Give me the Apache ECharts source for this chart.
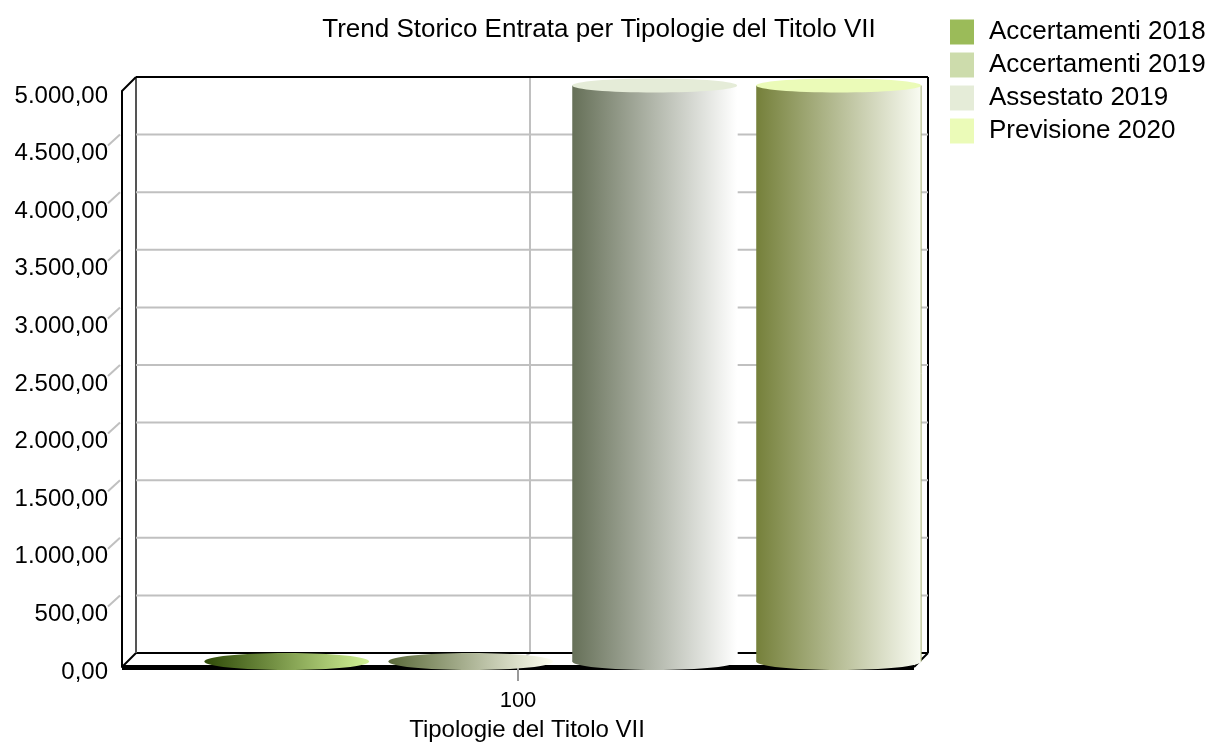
<!DOCTYPE html>
<html>
<head>
<meta charset="utf-8">
<title>Trend Storico Entrata</title>
<script type="text/javascript" src="https://cdn.jsdelivr.net/npm/echarts@6/dist/echarts.min.js"></script>
<style>
	html, body { margin: 0; padding: 0; background: #fff; }
	#main { width: 1210px; height: 742px; }
</style>
</head>
<body>
<div id="main"></div>
<script type="text/javascript">
	var titleText = 'Trend Storico Entrata per Tipologie del Titolo VII';
	var axisName = 'Tipologie del Titolo VII';
	var categories = ['100'];
	var seriesNames = ['Accertamenti 2018', 'Accertamenti 2019', 'Assestato 2019', 'Previsione 2020'];
	var seriesValues = [0, 0, 5000, 5000];
	var tickValues = [0, 500, 1000, 1500, 2000, 2500, 3000, 3500, 4000, 4500, 5000];
	var tickLabels = ['0,00', '500,00', '1.000,00', '1.500,00', '2.000,00', '2.500,00',
		'3.000,00', '3.500,00', '4.000,00', '4.500,00', '5.000,00'];
	var legendColors = ['#9bbb59', '#cddcac', '#e5ecd8', '#ebfbb8'];
	var darkSides = ['#2f4a08', '#5b6a3a', '#667058', '#75803a'];
	var lightSides = ['#d2f296', '#fffff2', '#ffffff', '#f9fbf2'];
	var edgeColors = ['#d2f296', '#fffff2', '#ffffff', '#a9b37a'];

	var DEPTH_X = 14, DEPTH_Y = 14;
	var GRAY = '#c0c0c0';

	function line(x1, y1, x2, y2, color, width) {
		return {
			type : 'line',
			shape : { x1 : x1, y1 : y1, x2 : x2, y2 : y2 },
			style : { stroke : color, lineWidth : width }
		};
	}

	// back wall, floor and the slanted ticks of the fake 3d box
	function renderFrame(params, api) {
		var cs = params.coordSys;
		var y = api.coord([0, api.value(1)])[1] - DEPTH_Y;
		var left = cs.x + DEPTH_X, right = cs.x + cs.width + DEPTH_X;
		var kids = [];
		var v = api.value(1);
		if (v > 0 && v < 5000) {
			kids.push(line(left, y, right, y, GRAY, 2));
			kids.push(line(cs.x - 2, y, cs.x - 14, y + 11, GRAY, 2));
		}
		if (v === 0) {
			var midX = api.coord([0, 0])[0];
			var front = cs.y + cs.height;
			kids.push(line(midX + DEPTH_X - 2, cs.y - DEPTH_Y, midX + DEPTH_X - 2, y, GRAY, 2));
			kids.push(line(midX + DEPTH_X - 2, y, midX + DEPTH_X - 6, y + 3, GRAY, 2));
			kids.push(line(left, y, right, y, '#000', 2));
			kids.push(line(cs.x, front, left, y, '#000', 2));
			kids.push(line(cs.x + cs.width, front, right, y, '#000', 2));
			kids.push(line(left, cs.y - DEPTH_Y, left, y, '#555', 2));
			kids.push(line(right, cs.y - DEPTH_Y, right, y, '#000', 2));
			kids.push(line(left, cs.y - DEPTH_Y, right, cs.y - DEPTH_Y, '#000', 2));
			kids.push(line(cs.x, cs.y, left, cs.y - DEPTH_Y, '#000', 2));
		}
		return { type : 'group', children : kids };
	}

	function makeCylinder(idx) {
		return function(params, api) {
			var band = api.size([1, 0])[0];
			var value = api.value(1);
			var center = api.coord([api.value(0), 0])[0] + band * (0.2323 * idx - 0.292);
			var rx = band * 0.1041;
			var topY = api.coord([0, value])[1] - 5.5;
			var bottomY = api.coord([0, 0])[1] - 5.5;
			var grad = {
				type : 'linear', x : 0, y : 0, x2 : 1, y2 : 0,
				colorStops : [
					{ offset : 0, color : darkSides[idx] },
					{ offset : 1, color : lightSides[idx] }
				]
			};
			var kids = [{
				type : 'ellipse',
				shape : { cx : center, cy : bottomY, rx : rx, ry : 8.5 },
				style : { fill : grad }
			}];
			if (value > 0) {
				kids.push({
					type : 'rect',
					shape : { x : center - rx, y : topY, width : rx * 2, height : bottomY - topY },
					style : { fill : grad }
				});
				kids.push(line(center + rx, topY, center + rx, bottomY, edgeColors[idx], 1));
				kids.push({
					type : 'ellipse',
					shape : { cx : center, cy : topY, rx : rx, ry : 7 },
					style : { fill : legendColors[idx] }
				});
			}
			return { type : 'group', children : kids };
		};
	}

	var series = [{
		type : 'custom',
		name : 'frame',
		z : 1,
		silent : true,
		renderItem : renderFrame,
		encode : { x : 0, y : 1 },
		data : tickValues.map(function(v) { return [0, v]; })
	}];
	for (var i = 0; i < seriesNames.length; i++) {
		series.push({
			type : 'custom',
			name : seriesNames[i],
			z : 5,
			renderItem : makeCylinder(i),
			encode : { x : 0, y : 1 },
			itemStyle : { color : legendColors[i] },
			data : [[0, seriesValues[i]]]
		});
	}

	var myChart = echarts.init(document.getElementById('main'), null, { renderer : 'canvas' });
	myChart.setOption({
		animation : false,
		backgroundColor : '#fff',
		textStyle : { fontFamily : 'Liberation Sans' },
		title : {
			text : titleText,
			left : 594,
			top : 12,
			textAlign : 'center',
			textStyle : { fontFamily : 'Liberation Sans', fontSize : 26, fontWeight : 'normal', color : '#000' }
		},
		legend : {
			orient : 'vertical',
			left : 950,
			top : 19,
			padding : 0,
			itemWidth : 24,
			itemHeight : 25,
			itemGap : 7,
			icon : 'rect',
			data : seriesNames,
			selectedMode : false,
			textStyle : { fontSize : 26, color : '#000', padding : [0, 0, 0, 10] }
		},
		grid : { left : 122, right : 296, top : 91, bottom : 75, outerBoundsMode : 'none' },
		xAxis : {
			type : 'category',
			data : categories,
			offset : 1,
			name : axisName,
			nameLocation : 'middle',
			nameGap : 50,
			nameTextStyle : { fontSize : 24, color : '#000', padding : [0, 0, 0, 18] },
			axisLine : { lineStyle : { color : '#000', width : 5, cap : 'butt' } },
			axisTick : { show : true, alignWithLabel : true, length : 14, lineStyle : { color : '#999', width : 2 } },
			axisLabel : { fontSize : 22, color : '#000', margin : 22 },
			splitLine : { show : false }
		},
		yAxis : {
			type : 'value',
			min : 0,
			max : 5000,
			interval : 500,
			axisLine : { show : true, lineStyle : { color : '#000', width : 2 } },
			axisTick : { show : false },
			splitLine : { show : false },
			axisLabel : {
				fontSize : 24,
				color : '#000',
				margin : 14,
				verticalAlign : 'top',
				lineHeight : 10,
				formatter : function(value) {
					return tickLabels[tickValues.indexOf(value)];
				}
			}
		},
		series : series
	});
</script>
</body>
</html>
